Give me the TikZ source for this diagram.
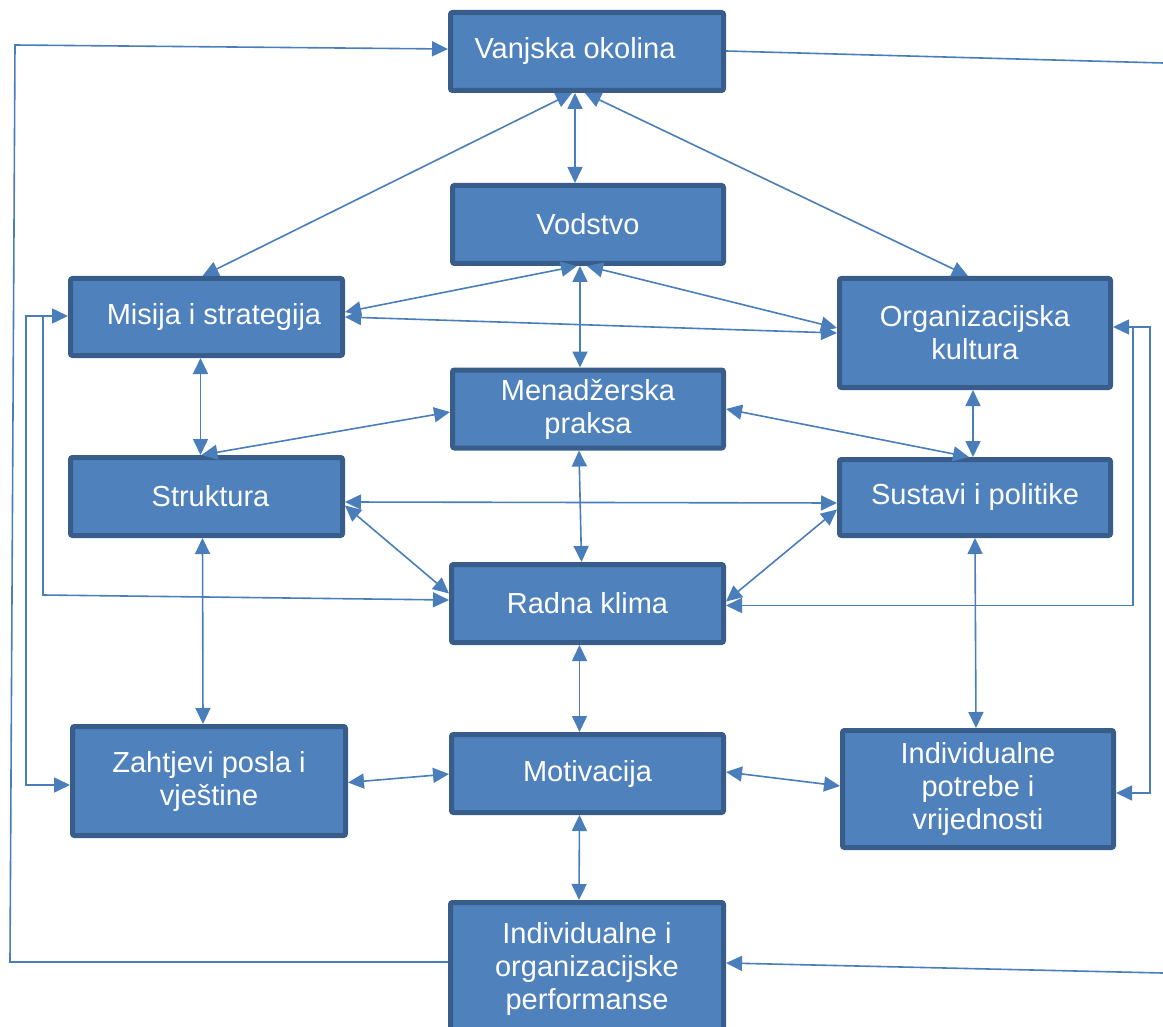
\documentclass[tikz,border=0pt]{standalone}
\usepackage{fontspec}
\setmainfont{Liberation Sans}
\usetikzlibrary{arrows.meta}
\definecolor{boxfill}{HTML}{4F81BD}
\definecolor{boxline}{HTML}{385D8A}
\definecolor{conn}{HTML}{4A7EBB}
\begin{document}
\begin{tikzpicture}[x=1pt,y=-1pt,
  bx/.style={draw=boxline, fill=boxfill, line width=5pt, outer sep=2.5pt,
    rounded corners=2pt, inner sep=2pt, align=center, text=white,
    font=\fontsize{29}{33}\selectfont},
  cn/.style={draw=conn, line width=1.6pt,
    arrows={Triangle[length=16pt,width=15pt]-Triangle[length=16pt,width=15pt]}},
  cnr/.style={draw=conn, line width=1.6pt, -{Triangle[length=16pt,width=15pt]}},
  cnp/.style={draw=conn, line width=1.6pt}]
\useasboundingbox (0,0) rectangle (1163,1027);
% boxes
\node[bx, minimum width=273pt, minimum height=78pt] (V)   at (587,51.5)  {Vanjska okolina\kern24pt};
\node[bx, minimum width=271pt, minimum height=78pt] (Vod) at (588,224.5) {Vodstvo};
\node[bx, minimum width=272pt, minimum height=77pt] (Mis) at (206.5,317) {\kern15pt Misija i strategija};
\node[bx, minimum width=271pt, minimum height=109pt] (Org) at (975,333) {Organizacijska\\kultura};
\node[bx, minimum width=271pt, minimum height=78pt] (Men) at (588,409) {Menadžerska\\praksa};
\node[bx, minimum width=272pt, minimum height=78pt] (Str) at (206.5,496.5) {\kern8pt Struktura};
\node[bx, minimum width=271pt, minimum height=76pt] (Sus) at (975,497.5) {Sustavi i politike};
\node[bx, minimum width=272pt, minimum height=78pt] (Rad) at (587.5,603.5) {Radna klima};
\node[bx, minimum width=273pt, minimum height=109pt] (Zah) at (209,781) {Zahtjevi posla i\\vještine};
\node[bx, minimum width=272pt, minimum height=78pt] (Mot) at (587.5,773.5) {Motivacija};
\node[bx, minimum width=271pt, minimum height=117pt] (Ind) at (978,789) {Individualne\\potrebe i\\vrijednosti};
\node[bx, minimum width=273pt, minimum height=133pt] (Per) at (587,969) {Individualne i\\organizacijske\\performanse};
% free corner points
\coordinate (L1) at (10,962);
\coordinate (L2) at (15,45);
\coordinate (R1) at (1163,63);
\coordinate (R2) at (1163,973);
\coordinate (A1) at (26,316);
\coordinate (A2) at (26,785);
\coordinate (B1) at (43,316);
\coordinate (B2) at (43,595);
\coordinate (C1) at (1150,327);
\coordinate (C2) at (1150,793);
\coordinate (D1) at (1133,327);
\coordinate (D2) at (1133,605.5);
% connectors
\draw[cn] ([xshift=-15pt]V.south) -- ([xshift=-4pt]Mis.north);
\draw[cn] ([xshift=-12pt]V.south) -- ([xshift=-13pt]Vod.north);
\draw[cn] ([xshift=-2pt]V.south) -- ([xshift=-7pt]Org.north);
\draw[cn] ([xshift=-11pt]Vod.south) -- ([yshift=5pt]Mis.east);
\draw[cn] ([xshift=-1pt]Vod.south) -- ([yshift=5pt]Org.west);
\draw[cn] (Mis.east) -- (Org.west);
\draw[cn] ([xshift=-8pt]Vod.south) -- ([xshift=-8pt]Men.north);
\draw[cn] ([xshift=-6pt]Mis.south) -- ([xshift=-6pt]Str.north);
\draw[cn] ([xshift=-5pt]Str.north) -- ([yshift=-3pt]Men.west);
\draw[cn] ([yshift=0pt]Men.east) -- ([xshift=-6pt]Sus.north);
\draw[cn] ([xshift=-2pt]Org.south) -- ([xshift=-2pt]Sus.north);
\draw[cn] ([yshift=-5.5pt]Str.east) -- ([yshift=-5.5pt]Sus.west);
\draw[cn] ([yshift=-9pt]Str.east) -- ([yshift=10pt]Rad.west);
\draw[cn] ([xshift=-9pt]Men.south) -- ([xshift=-6pt]Rad.north);
\draw[cn] ([yshift=-12pt]Sus.west) -- ([yshift=2pt]Rad.east);
\draw[cn] ([xshift=-4pt]Str.south) -- ([xshift=-6pt]Zah.north);
\draw[cn] ([xshift=-8pt]Rad.south) -- ([xshift=-8pt]Mot.north);
\draw[cn] (Sus.south) -- ([xshift=-2pt]Ind.north);
\draw[cn] ([yshift=-1.5pt]Zah.east) -- ([yshift=-0.5pt]Mot.west);
\draw[cn] ([yshift=1.5pt]Mot.east) -- ([yshift=3pt]Ind.west);
\draw[cn] ([xshift=-8pt]Mot.south) -- ([xshift=-8pt]Per.north);
% feedback loops
\draw[cnr] ([yshift=7pt]Per.west) -- (L1) -- (L2) -- ([yshift=2.5pt]V.west);
\draw[cnp] ([yshift=0.5pt]V.east) -- (R1);
\draw[cnr] (R2) -- ([yshift=6pt]Per.east);
\draw[cn] ([yshift=-4pt]Zah.west) -- (A2) -- (A1) -- ([yshift=1pt]Mis.west);
\draw[cnr] (B1) -- (B2) -- ([yshift=3.5pt]Rad.west);
\draw[cn] ([yshift=6pt]Org.east) -- (C1) -- (C2) -- ([yshift=-4pt]Ind.east);
\draw[cnr] (D1) -- (D2) -- ([yshift=-2pt]Rad.east);
\end{tikzpicture}
\end{document}
